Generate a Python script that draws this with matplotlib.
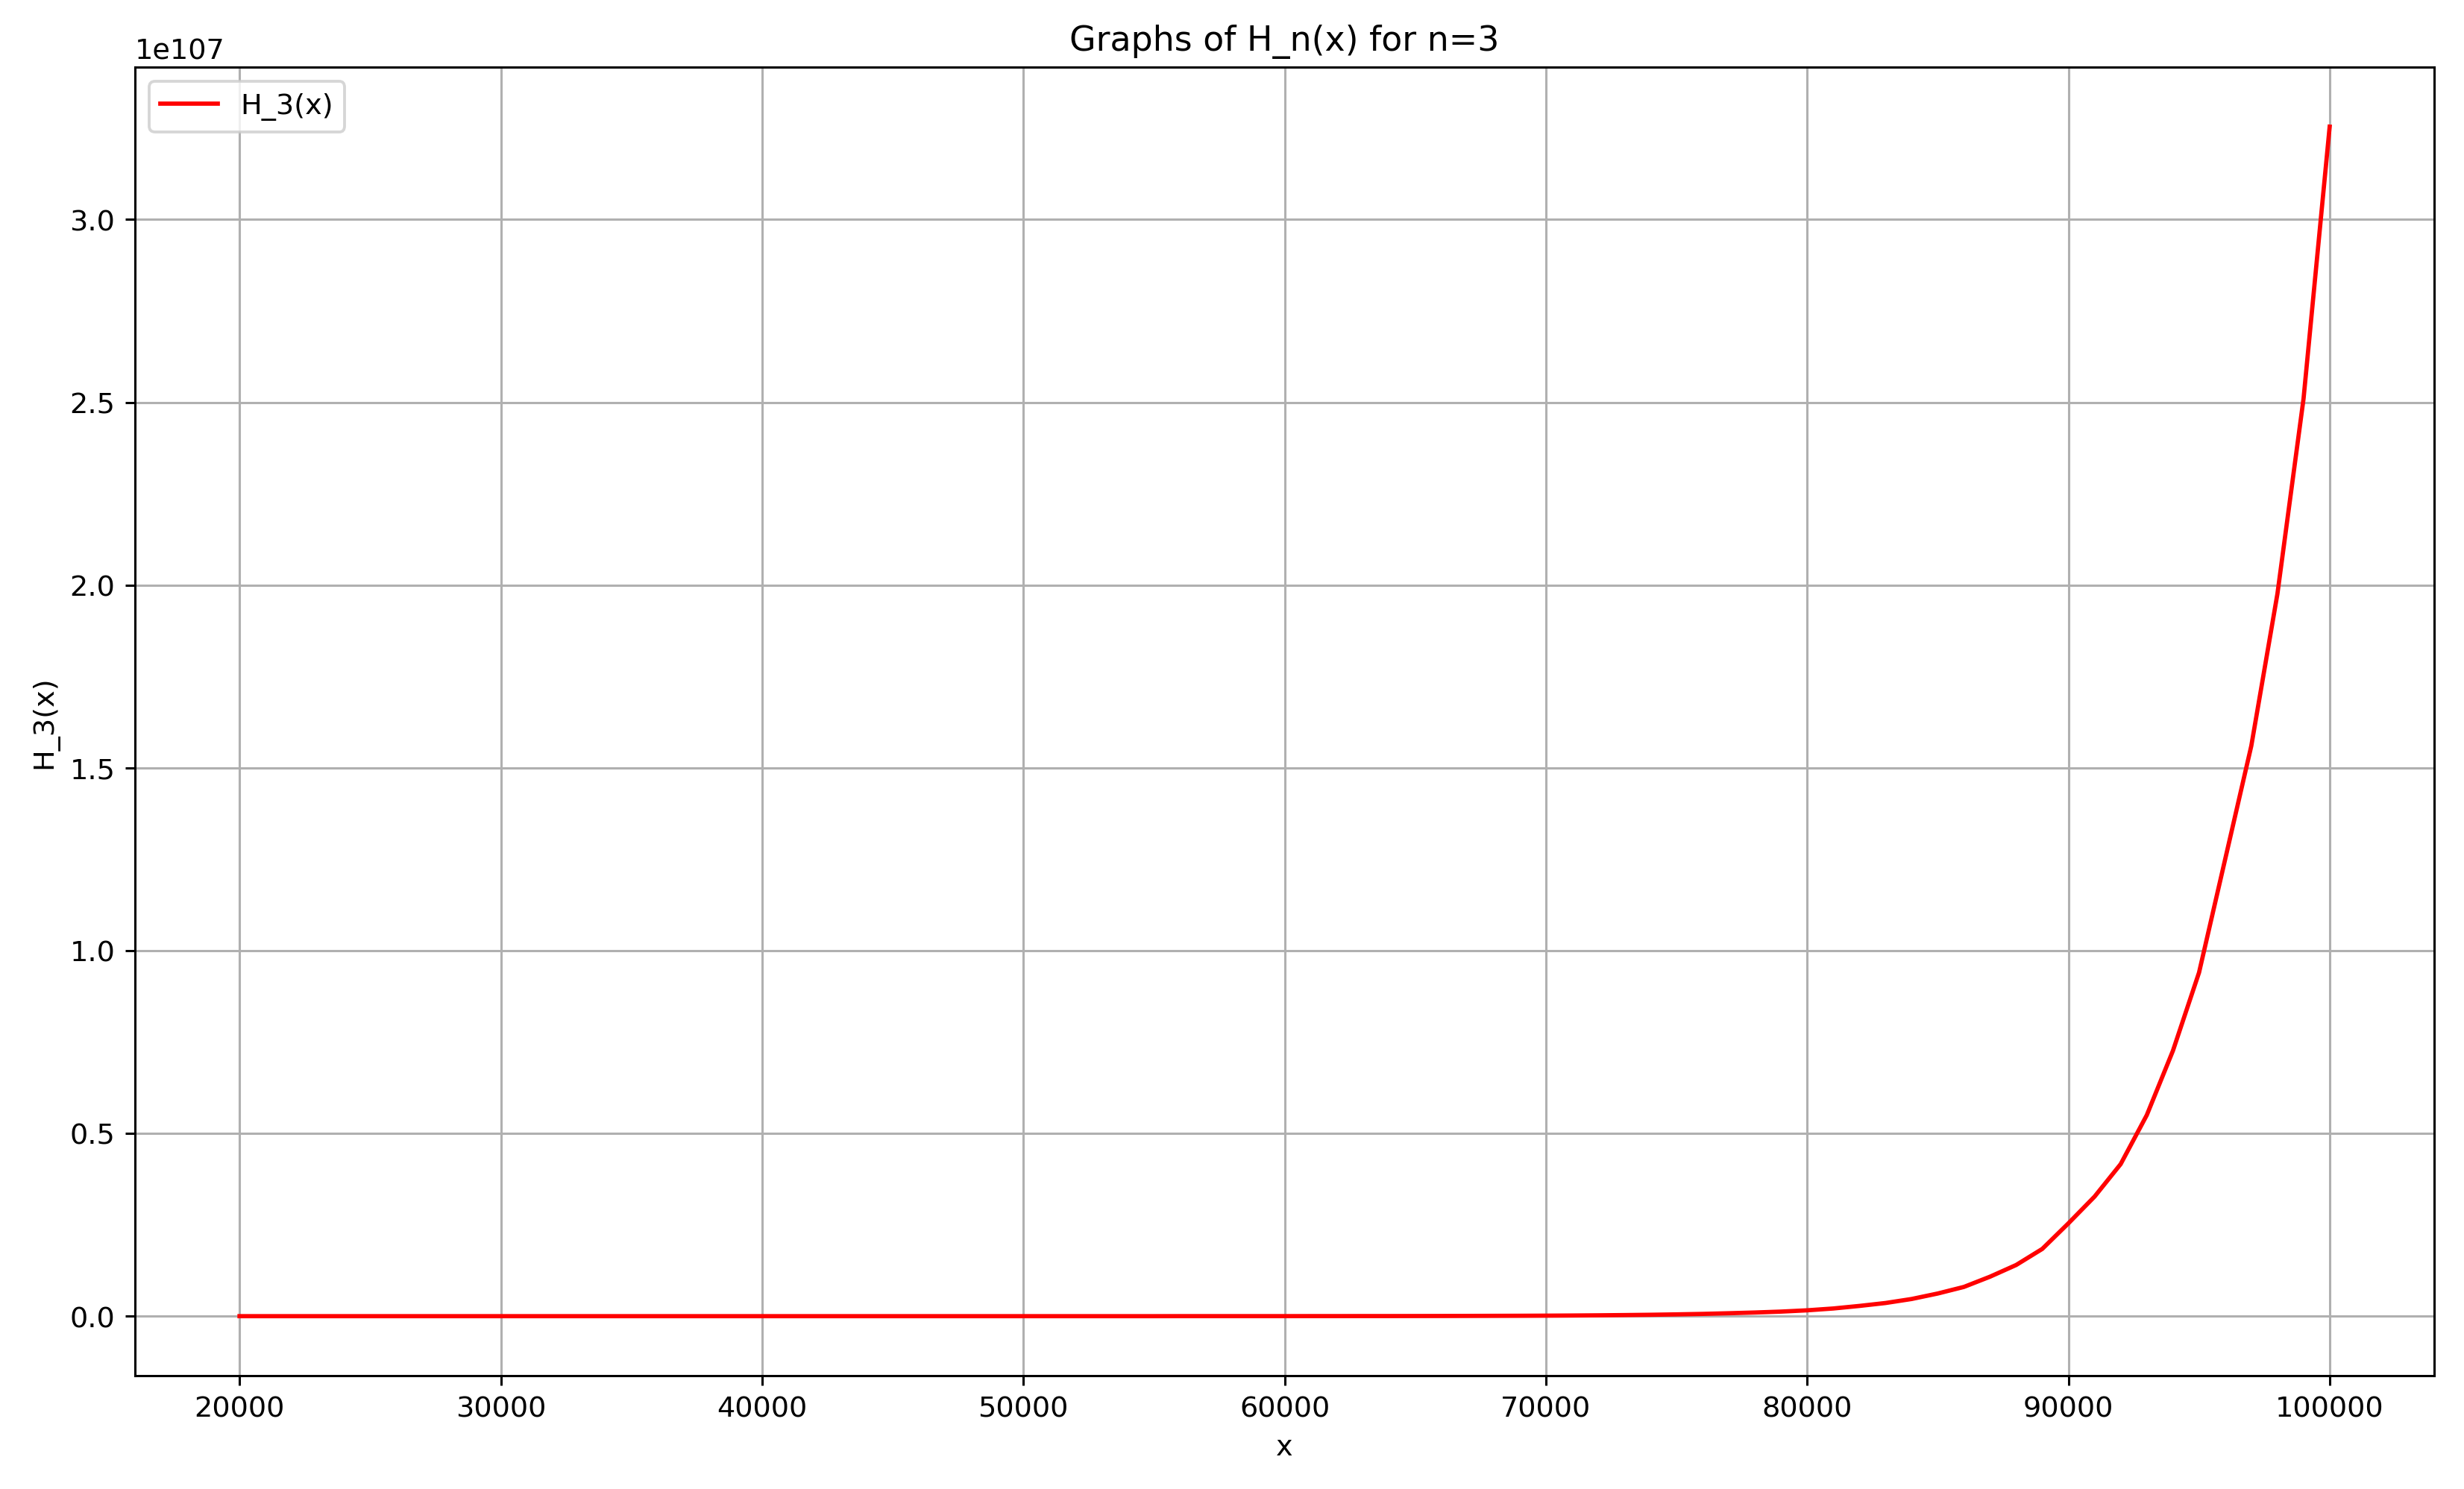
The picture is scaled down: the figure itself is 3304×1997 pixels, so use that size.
import numpy as np
import matplotlib
matplotlib.use("Agg")
import matplotlib.pyplot as plt

# sample grid, 20000..100000 in steps of 1000
x = np.arange(20000, 100001, 1000)

# H_3(x) values, in units of 1e107
h3_low = [0.0, 0.0, 0.0, 0.0, 0.0, 0.0, 0.0, 0.0, 0.0, 0.0,   # 20000-29000
          0.0, 0.0, 0.0, 0.0, 0.0, 0.0, 0.0, 0.0, 0.0, 0.0,   # 30000-39000
          0.0, 0.0, 0.0, 0.0, 0.0, 0.0, 0.0, 0.0, 0.0, 0.0,   # 40000-49000
          0.0, 0.0, 0.0, 0.0, 0.0, 0.0, 0.0001, 0.0001, 0.0001, 0.0001,  # 50000-59000
          0.0001, 0.0002, 0.0002, 0.0003, 0.0003, 0.0004, 0.0005, 0.0007, 0.0009, 0.0011,  # 60000-69000
          0.0014, 0.0018, 0.0023, 0.0030, 0.0038, 0.0049, 0.0062, 0.0080, 0.0100, 0.0125]  # 70000-79000
h3_high = [0.016, 0.021, 0.028, 0.036, 0.047, 0.062, 0.080, 0.108, 0.140, 0.184,   # 80000-89000
           0.254, 0.327, 0.416, 0.550, 0.726, 0.940, 1.250, 1.560, 1.976, 2.510,   # 90000-99000
           3.254]                                                                 # 100000
y = np.array(h3_low + h3_high) * 1e107

fig = plt.figure(figsize=(3304 / 275, 1997.8 / 275), dpi=275)
ax = fig.add_subplot(111)
fig.subplots_adjust(left=0.0548, right=0.9879, top=0.9545, bottom=0.0761)

ax.plot(x, y, color='red', label='H_3(x)')
ax.set_title('Graphs of H_n(x) for n=3')
ax.set_xlabel('x')
ax.set_ylabel('H_3(x)')
ax.legend(loc='upper left')
ax.grid(True)

fig.savefig('out.png', dpi=275)
